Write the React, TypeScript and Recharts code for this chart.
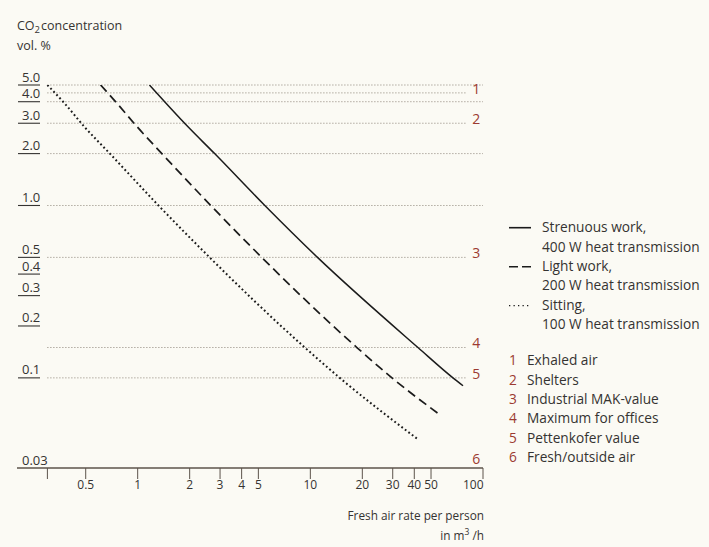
import React from 'react';
import { LineChart, Line, XAxis, YAxis, ReferenceLine } from 'recharts';

// CO2 concentration (vol. %) against fresh air rate per person (m³/h)
const strenuousWork = [
  { x: 1.17, y: 5.0 },
  { x: 1.95, y: 2.87 },
  { x: 2.79, y: 2.0 },
  { x: 5.45, y: 1.0 },
  { x: 11.0, y: 0.5 },
  { x: 42.0, y: 0.15 },
  { x: 67.0, y: 0.1 },
  { x: 76.6, y: 0.09 },
];
const lightWork = [
  { x: 0.61, y: 5.0 },
  { x: 0.765, y: 3.88 },
  { x: 0.99, y: 2.87 },
  { x: 1.38, y: 2.0 },
  { x: 2.65, y: 1.0 },
  { x: 5.23, y: 0.5 },
  { x: 18.6, y: 0.15 },
  { x: 29.7, y: 0.1 },
  { x: 56.3, y: 0.061 },
];
const sitting = [
  { x: 0.3, y: 5.0 },
  { x: 0.38, y: 3.88 },
  { x: 0.49, y: 2.87 },
  { x: 0.69, y: 2.0 },
  { x: 1.32, y: 1.0 },
  { x: 2.61, y: 0.5 },
  { x: 9.29, y: 0.15 },
  { x: 14.8, y: 0.1 },
  { x: 42.0, y: 0.044 },
];

const xTicks = [0.3, 0.5, 1, 2, 3, 4, 5, 10, 20, 30, 40, 50, 100];
const xTickLabels = ['', '0.5', '1', '2', '3', '4', '5', '10', '20', '30', '40', '50', '100'];
const yTicks = [5, 4, 3, 2, 1, 0.5, 0.4, 0.3, 0.2, 0.1, 0.03];
const yTickLabels = ['5.0', '4.0', '3.0', '2.0', '1.0', '0.5', '0.4', '0.3', '0.2', '0.1', '0.03'];

// plain dotted guide lines and numbered threshold lines
const plainLevels = [5, 4, 2, 1];
const markedLevels = [4.5, 3, 0.5, 0.15, 0.1, 0.03];
const markedNumbers = ['1', '2', '3', '4', '5', '6'];
const markedNames = [
  'Exhaled air',
  'Shelters',
  'Industrial MAK-value',
  'Maximum for offices',
  'Pettenkofer value',
  'Fresh/outside air',
];

const seriesNames = ['Strenuous work,', 'Light work,', 'Sitting,'];
const seriesNotes = ['400 W heat transmission', '200 W heat transmission', '100 W heat transmission'];
const seriesDash = ['', '9 4', '1.3 3.2'];

const FONT = "'Open Sans', 'Noto Sans', sans-serif";
const TEXT = '#353331';
const RED = '#9c3a31';
const INK = '#1b1b1b';
const GRID = '#8d8479';
const BG = '#fbfaf4';

const YTick = (props: any) => {
  const { y, payload } = props;
  const i = yTicks.indexOf(payload.value);
  return (
    <g>
      <text x={22} y={y - 3.5} fontSize={13} fill={TEXT} fontFamily={FONT}>
        {yTickLabels[i]}
      </text>
      {payload.value !== 0.03 && (
        <line x1={18} x2={40} y1={y} y2={y} stroke={TEXT} strokeWidth={1.1} />
      )}
    </g>
  );
};

const XTick = (props: any) => {
  const { x, y, payload } = props;
  const i = xTicks.indexOf(payload.value);
  const last = i === xTicks.length - 1;
  return (
    <text
      x={last ? x + 0.5 : x}
      y={y + 8}
      textAnchor={last ? 'end' : 'middle'}
      fontSize={12}
      fill={TEXT}
      fontFamily={FONT}
    >
      {xTickLabels[i]}
    </text>
  );
};

const markLabel = (n: string, lift: number) => (props: any) => {
  const vb = props.viewBox || {};
  const x = (vb.x || 0) + (vb.width || 0) + 6;
  return (
    <text x={x} y={(vb.y || 0) - lift} dy="0.35em" fontSize={14} fill={RED} fontFamily={FONT}>
      {n}
    </text>
  );
};

const rowH = 19.4;

export default function App() {
  return (
    <div
      style={{
        position: 'absolute',
        left: 0,
        top: 0,
        width: 709,
        height: 547,
        background: BG,
        fontFamily: FONT,
        color: TEXT,
        overflow: 'hidden',
      }}
    >
      <div style={{ position: 'absolute', left: 17, top: 16, fontSize: 12.5, lineHeight: '19px' }}>
        <div>
          CO<span style={{ fontSize: 9.5, position: 'relative', top: 3 }}>2</span>
          <span style={{ marginLeft: 1 }}>concentration</span>
        </div>
        <div>vol. %</div>
      </div>

      <LineChart
        width={709}
        height={547}
        margin={{ top: 85, right: 226, bottom: 49, left: 0 }}
        style={{ position: 'absolute', left: 0, top: 0 }}
      >
        <XAxis
          type="number"
          dataKey="x"
          scale="log"
          domain={[0.2, 100]}
          allowDataOverflow
          ticks={xTicks}
          interval={0}
          height={30}
          tickSize={11}
          tick={<XTick />}
          axisLine={{ stroke: '#5c534b', strokeWidth: 1.3 }}
          tickLine={{ stroke: '#5c534b', strokeWidth: 1 }}
        />
        <YAxis
          type="number"
          dataKey="y"
          scale="log"
          domain={[0.03, 5]}
          allowDataOverflow
          ticks={yTicks}
          interval={0}
          width={17}
          axisLine={false}
          tickLine={false}
          tick={<YTick />}
        />

        {plainLevels.map((v) => (
          <ReferenceLine
            key={'p' + v}
            segment={[{ x: 0.3, y: v }, { x: 100, y: v }]}
            stroke={GRID}
            strokeWidth={1}
            strokeDasharray="1 2"
            ifOverflow="visible"
          />
        ))}
        {markedLevels.map((v, i) => (
          <ReferenceLine
            key={'m' + v}
            segment={[{ x: 0.3, y: v }, { x: 80, y: v }]}
            stroke={GRID}
            strokeOpacity={v === 0.03 ? 0 : 1}
            strokeWidth={1}
            strokeDasharray="1 2"
            ifOverflow="visible"
            label={markLabel(markedNumbers[i], v === 0.03 ? 9 : 4)}
          />
        ))}

        <Line
          data={strenuousWork}
          dataKey="y"
          name={seriesNames[0]}
          type="monotone"
          stroke={INK}
          strokeWidth={1.5}
          dot={false}
          isAnimationActive={false}
        />
        <Line
          data={lightWork}
          dataKey="y"
          name={seriesNames[1]}
          type="monotone"
          stroke={INK}
          strokeWidth={1.7}
          strokeDasharray="9 5"
          dot={false}
          isAnimationActive={false}
        />
        <Line
          data={sitting}
          dataKey="y"
          name={seriesNames[2]}
          type="monotone"
          stroke={INK}
          strokeWidth={2}
          strokeDasharray="1.8 2.6"
          dot={false}
          isAnimationActive={false}
        />
      </LineChart>

      {/* x axis title */}
      <div
        style={{
          position: 'absolute',
          right: 709 - 484,
          top: 505,
          fontSize: 11.8,
          lineHeight: '20px',
          textAlign: 'right',
          whiteSpace: 'nowrap',
        }}
      >
        <div>Fresh air rate per person</div>
        <div>
          in m<span style={{ fontSize: 8.5, position: 'relative', top: -5 }}>3</span> /h
        </div>
      </div>

      {/* series legend */}
      <div style={{ position: 'absolute', left: 507, top: 227 - rowH / 2, fontSize: 13.7 }}>
        {seriesNames.map((n, i) => (
          <div key={n} style={{ position: 'relative', height: rowH * 2 }}>
            <svg width={26} height={rowH} style={{ position: 'absolute', left: 0, top: 0 }}>
              <line
                x1={2}
                x2={24}
                y1={rowH / 2 + 1}
                y2={rowH / 2 + 1}
                stroke={INK}
                strokeWidth={i === 2 ? 1.3 : 1.6}
                strokeDasharray={seriesDash[i] || undefined}
              />
            </svg>
            <div style={{ position: 'absolute', left: 35, top: 0, lineHeight: rowH + 'px', whiteSpace: 'nowrap' }}>
              {n}
            </div>
            <div style={{ position: 'absolute', left: 35, top: rowH, lineHeight: rowH + 'px', whiteSpace: 'nowrap' }}>
              {seriesNotes[i]}
            </div>
          </div>
        ))}
      </div>

      {/* numbered thresholds */}
      <div style={{ position: 'absolute', left: 509, top: 360 - rowH / 2, fontSize: 13.7 }}>
        {markedNames.map((n, i) => (
          <div key={n} style={{ position: 'relative', height: rowH, lineHeight: rowH + 'px', whiteSpace: 'nowrap' }}>
            <span style={{ color: RED, position: 'absolute', left: 0 }}>{markedNumbers[i]}</span>
            <span style={{ position: 'absolute', left: 18 }}>{n}</span>
          </div>
        ))}
      </div>
    </div>
  );
}
